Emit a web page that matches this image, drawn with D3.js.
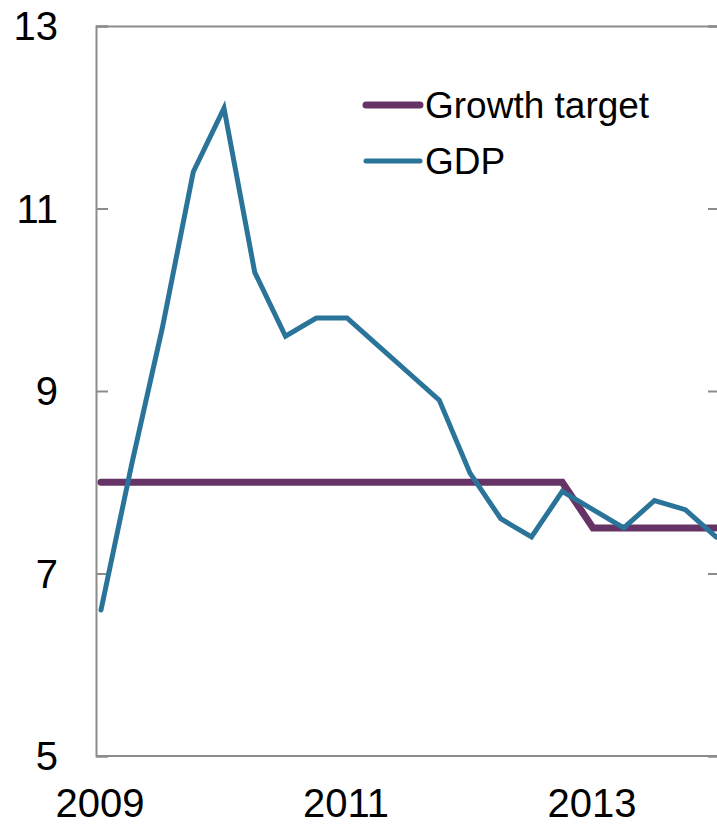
<!DOCTYPE html>
<html><head><meta charset="utf-8">
<script src="https://cdn.jsdelivr.net/npm/d3@7"></script>
<style>html,body{margin:0;padding:0;background:#fff;overflow:hidden}</style>
</head><body>
<svg id="c" width="717" height="826"></svg>
<script>
const quarters = ["2009Q1","2009Q2","2009Q3","2009Q4","2010Q1","2010Q2","2010Q3","2010Q4","2011Q1","2011Q2","2011Q3","2011Q4","2012Q1","2012Q2","2012Q3","2012Q4","2013Q1","2013Q2","2013Q3","2013Q4","2014Q1"];
const gdp = [6.6,8.2,9.7,11.4,12.1,10.3,9.6,9.8,9.8,9.5,9.2,8.9,8.1,7.6,7.4,7.9,7.7,7.5,7.8,7.7,7.4];
const target = [8,8,8,8,8,8,8,8,8,8,8,8,8,8,8,8,7.5,7.5,7.5,7.5,7.5];
const yTicks = [5,7,9,11,13];
const xTickLabels = ["2009","2011","2013"];
const seriesNames = ["Growth target","GDP"];

const svg = d3.select("#c");
const L = 96, R = 718, T = 26, B = 756;
const x = d3.scaleLinear().domain([0, quarters.length - 1]).range([101, 716]);
const y = d3.scaleLinear().domain([5, 13]).range([B, T]);
const axisColor = "#8c8c8c";
const font = "Liberation Sans, Arial, sans-serif";

// frame: top border
svg.append("line").attr("x1", L).attr("x2", R).attr("y1", T + 0.5).attr("y2", T + 0.5)
  .attr("stroke", axisColor).attr("stroke-width", 2);

// left axis
const ga = svg.append("g").attr("transform", `translate(${L},0)`)
  .call(d3.axisRight(y).tickValues(yTicks).tickSize(12).tickFormat(""));
ga.select(".domain").attr("stroke", axisColor).attr("stroke-width", 2);
ga.selectAll(".tick line").attr("stroke", axisColor).attr("stroke-width", 2);

// right axis
const gr = svg.append("g").attr("transform", `translate(${R},0)`)
  .call(d3.axisLeft(y).tickValues(yTicks).tickSize(10).tickFormat(""));
gr.select(".domain").attr("stroke", axisColor).attr("stroke-width", 2);
gr.selectAll(".tick line").attr("stroke", axisColor).attr("stroke-width", 2);

// y labels
svg.append("g").selectAll("text").data(yTicks).join("text")
  .attr("x", 58).attr("y", d => y(d)).attr("dy", "0.36em")
  .attr("text-anchor", "end").attr("font-family", font).attr("font-size", 40)
  .attr("fill", "#000").text(d => d);

// bottom axis
svg.append("line").attr("x1", L).attr("x2", R).attr("y1", B).attr("y2", B)
  .attr("stroke", axisColor).attr("stroke-width", 2);
svg.append("g").selectAll("text").data(xTickLabels).join("text")
  .attr("x", d => x(quarters.indexOf(d + "Q1")) - 1).attr("y", 817)
  .attr("text-anchor", "middle").attr("font-family", font).attr("font-size", 40)
  .attr("fill", "#000").text(d => d);

const colors = {"Growth target": "#663366", "GDP": "#2b7499"};
const widths = {"Growth target": 7, "GDP": 5};
const line = d3.line().x((d, i) => x(i)).y(d => y(d));

svg.append("path").datum(target).attr("d", line).attr("fill", "none")
  .attr("stroke", colors["Growth target"]).attr("stroke-width", widths["Growth target"])
  .attr("stroke-linecap", "round").attr("stroke-linejoin", "miter");
svg.append("path").datum(gdp).attr("d", line).attr("fill", "none")
  .attr("stroke", colors["GDP"]).attr("stroke-width", widths["GDP"])
  .attr("stroke-linecap", "round").attr("stroke-linejoin", "miter");

// legend
const lg = svg.append("g");
const legY = [105, 161];
seriesNames.forEach((n, i) => {
  lg.append("line").attr("x1", 366).attr("x2", 420).attr("y1", legY[i]).attr("y2", legY[i])
    .attr("stroke", colors[n]).attr("stroke-width", n === "GDP" ? 5 : 7).attr("stroke-linecap", "round");
  lg.append("text").attr("x", 425).attr("y", legY[i] + 12.5)
    .attr("font-family", font).attr("font-size", 37).attr("fill", "#000").text(n);
});
</script>
</body></html>
